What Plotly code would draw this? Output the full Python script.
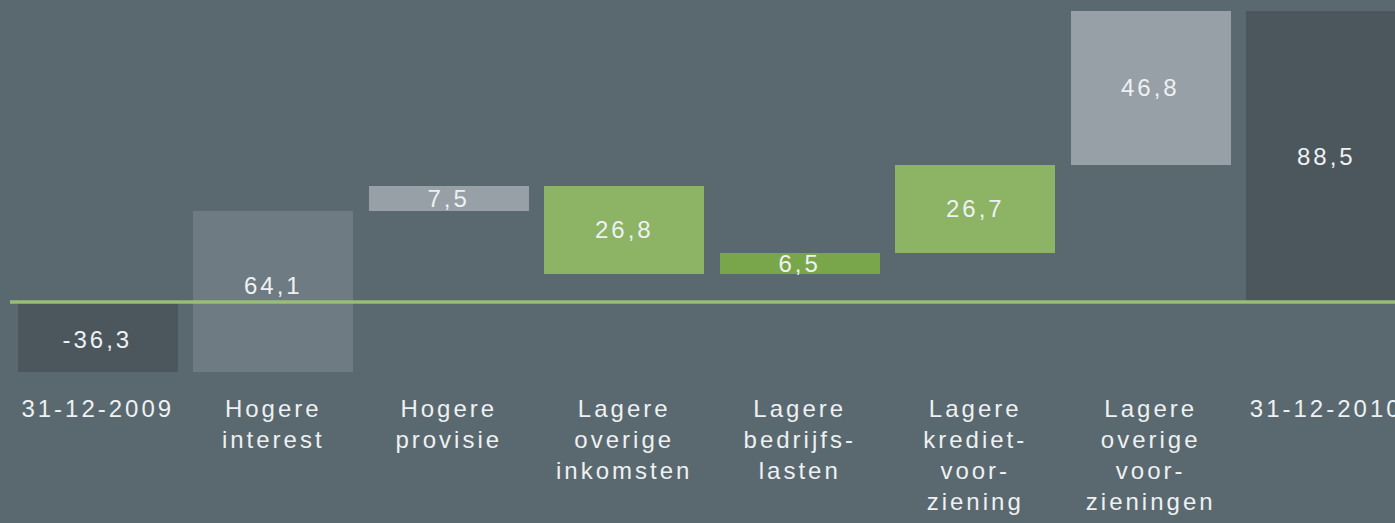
import plotly.graph_objects as go

# ---- data ----
categories = ["31-12-2009", "Hogere<br>interest", "Hogere<br>provisie",
              "Lagere<br>overige<br>inkomsten", "Lagere<br>bedrijfs-<br>lasten",
              "Lagere<br>krediet-<br>voor-<br>ziening", "Lagere<br>overige<br>voor-<br>zieningen",
              "31-12-2010"]
values = [-36.3, 64.1, 7.5, -26.8, 6.5, 26.7, 46.8, 88.5]
measures = ["absolute", "relative", "relative", "relative", "relative",
            "relative", "relative", "total"]

# ---- style ----
bar_colors = ["#4b565d", "#6e7b82", "#97a0a6", "#8db365", "#79a64b",
              "#8db365", "#97a0a6", "#4b565d"]
bg = "#5a6870"
text_color = "#eef1f2"
font_family = "Liberation Sans, Arial, sans-serif"
y_range = [-21.29, 91.85]

# compute waterfall bases
bases, heights, labels = [], [], []
running = 0.0
for v, m in zip(values, measures):
    if m == "absolute":
        bases.append(0.0); heights.append(v); running = v
        labels.append(f"{v:.1f}".replace(".", ","))
    elif m == "total":
        bases.append(0.0); heights.append(running)
        labels.append(f"{running:.1f}".replace(".", ","))
    else:
        bases.append(running); heights.append(v); running += v
        labels.append(f"{abs(v):.1f}".replace(".", ","))

xs = list(range(len(categories)))

fig = go.Figure()
fig.add_trace(go.Bar(
    x=xs, y=heights, base=bases, width=0.91,
    marker=dict(color=bar_colors, line=dict(width=0)),
    hoverinfo="skip", showlegend=False,
))

# value labels centred in visible part of each bar
for x, b, h, lab in zip(xs, bases, heights, labels):
    lo, hi = sorted([b, b + h])
    lo = max(lo, y_range[0]); hi = min(hi, y_range[1])
    shift = 0
    if lo < 0 < hi:
        shift = 6
    elif hi <= 0:
        shift = -2
    fig.add_annotation(x=x, y=(lo + hi) / 2, text=lab, showarrow=False,
                       font=dict(size=24, color=text_color, family=font_family),
                       xanchor="center", yanchor="middle", yshift=shift)

# zero line
fig.add_shape(type="line", xref="paper", x0=0, x1=1, yref="y", y0=0, y1=0,
              line=dict(color="#98bd78", width=3.5), layer="above")

fig.update_layout(
    width=1395, height=523,
    margin=dict(l=10, r=0, t=0, b=151),
    paper_bgcolor=bg, plot_bgcolor=bg,
    bargap=0,
    xaxis=dict(range=[-0.5, 7.392], tickvals=xs, ticktext=categories,
               showgrid=False, zeroline=False, showline=False,
               ticks="outside", ticklen=15, tickcolor="rgba(0,0,0,0)",
               tickfont=dict(size=24, color=text_color, family=font_family)),
    yaxis=dict(range=y_range, visible=False, showgrid=False, zeroline=False),
)

post = ("document.body.style.margin='0';document.body.style.padding='0';"
        "document.body.style.background='" + bg + "';"
        "document.querySelectorAll('.xtick text, .annotation-text')"
        ".forEach(function(t){t.style.letterSpacing='3px';});")
fig.write_html("out.html", post_script=post, config={"displayModeBar": False})
